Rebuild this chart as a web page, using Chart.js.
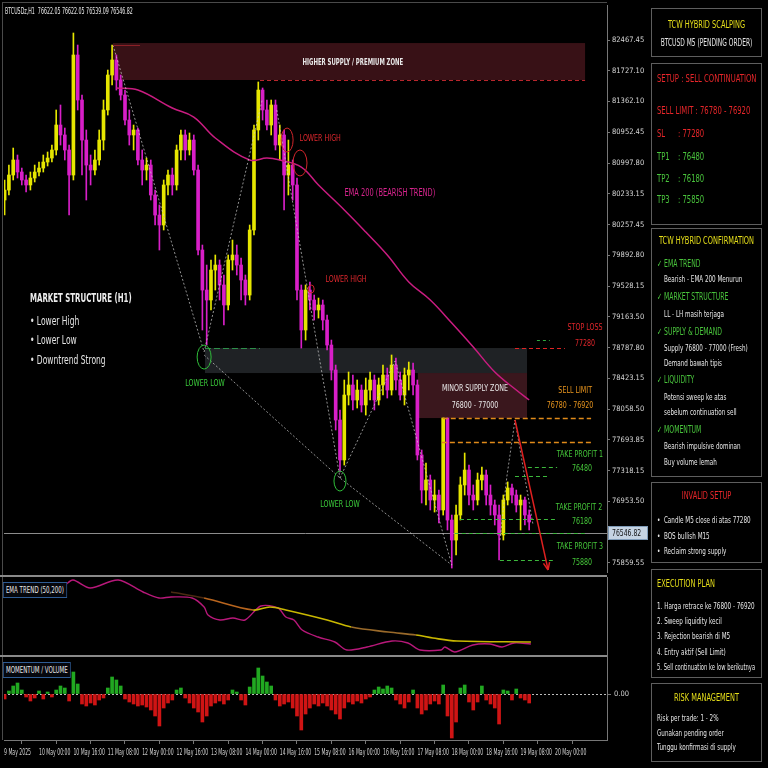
<!DOCTYPE html>
<html><head><meta charset="utf-8">
<script src="https://cdn.jsdelivr.net/npm/chart.js@4.4.0/dist/chart.umd.min.js"></script>
<style>
html,body{margin:0;padding:0;background:#000;width:768px;height:768px;overflow:hidden;}
body{position:relative;font-family:"Liberation Sans Narrow","DejaVu Sans Condensed","Liberation Sans",sans-serif;color:#e8e8e8;}
canvas{position:absolute;left:0;}
#cMain{top:0;} #cEma{top:577px;} #cMom{top:657px;}
.ln{position:absolute;background:#4a4a4a;}
.box{position:absolute;left:651px;width:111px;border:1.5px solid #5e5e5e;box-sizing:border-box;background:#000;}
.t{position:absolute;white-space:nowrap;font-size:9.5px;line-height:12px;height:12px;transform:scaleX(0.76);transform-origin:0 50%;z-index:2;}
.t.w{transform:scaleX(0.66);}
.t.w.nw{transform:scaleX(0.61);}
.t.h{font-size:10px;transform:scaleX(0.68);}
.t.c{left:556px;width:301px;text-align:center;transform-origin:50% 50%;}
.t.c.ti{font-size:10.5px;transform:scaleX(0.7);}
.y{color:#e6df1a;} .r{color:#e8262a;} .g{color:#49c43c;} .w{color:#e6e6e6;}
.tag{position:absolute;left:3px;border:1px solid #2f5c94;background:#05070d;color:#e6e6e6;font-size:8.5px;line-height:14px;padding:0 3px;white-space:nowrap;z-index:3;transform:scaleX(0.72);transform-origin:0 50%;}
</style></head>
<body>
<canvas id="cMain" width="650" height="576"></canvas>
<canvas id="cEma" width="650" height="79"></canvas>
<canvas id="cMom" width="650" height="111"></canvas>

<div class="ln" style="left:2px;top:2px;width:605px;height:1px;"></div>
<div class="ln" style="left:2px;top:2px;width:1px;height:738px;"></div>
<div class="ln" style="left:0;top:575px;width:607px;height:2px;background:#8a8a8a;"></div>
<div class="ln" style="left:0;top:655px;width:607px;height:2px;background:#8a8a8a;"></div>
<div class="ln" style="left:607px;top:577px;width:1px;height:80px;background:#777;"></div>

<div class="tag" style="top:582px;">EMA TREND (50,200)</div>
<div class="tag" style="top:662px;">MOMENTUM / VOLUME</div>

<div class="box" style="top:8px;height:49px;"></div>
<div class="box" style="top:63px;height:162px;"></div>
<div class="box" style="top:228px;height:249px;"></div>
<div class="box" style="top:482px;height:81px;"></div>
<div class="box" style="top:569px;height:109px;"></div>
<div class="box" style="top:683px;height:79px;"></div>

<div class="t c ti y" style="top:18px;">TCW HYBRID SCALPING</div>
<div class="t c w" style="top:37px;font-size:10px;">BTCUSD M5 (PENDING ORDER)</div>

<div class="t r" style="left:657px;top:73px;font-size:10px;">SETUP : SELL CONTINUATION</div>
<div class="t r" style="left:657px;top:105px;font-size:10px;">SELL LIMIT : 76780 - 76920</div>
<div class="t r" style="left:657px;top:128px;font-size:10px;">SL</div><div class="t r" style="left:678px;top:128px;font-size:10px;">: 77280</div>
<div class="t g" style="left:657px;top:151px;font-size:10px;">TP1</div><div class="t g" style="left:678px;top:151px;font-size:10px;">: 76480</div>
<div class="t g" style="left:657px;top:173px;font-size:10px;">TP2</div><div class="t g" style="left:678px;top:173px;font-size:10px;">: 76180</div>
<div class="t g" style="left:657px;top:194px;font-size:10px;">TP3</div><div class="t g" style="left:678px;top:194px;font-size:10px;">: 75850</div>

<div class="t c ti y" style="top:234px;">TCW HYBRID CONFIRMATION</div>
<div class="t h g" style="left:657px;top:258px;">✓ EMA TREND</div>
<div class="t w" style="left:664px;top:273px;">Bearish - EMA 200 Menurun</div>
<div class="t h g" style="left:657px;top:291px;">✓ MARKET STRUCTURE</div>
<div class="t w" style="left:664px;top:308px;">LL - LH masih terjaga</div>
<div class="t h g" style="left:657px;top:326px;">✓ SUPPLY &amp; DEMAND</div>
<div class="t w" style="left:664px;top:342px;">Supply 76800 - 77000 (Fresh)</div>
<div class="t w" style="left:664px;top:357px;">Demand bawah tipis</div>
<div class="t h g" style="left:657px;top:374px;">✓ LIQUIDITY</div>
<div class="t w" style="left:664px;top:391px;">Potensi sweep ke atas</div>
<div class="t w" style="left:664px;top:406px;">sebelum continuation sell</div>
<div class="t h g" style="left:657px;top:424px;">✓ MOMENTUM</div>
<div class="t w" style="left:664px;top:440px;">Bearish impulsive dominan</div>
<div class="t w" style="left:664px;top:456px;">Buy volume lemah</div>

<div class="t c ti r" style="top:489px;">INVALID SETUP</div>
<div class="t w" style="left:657px;top:514px;">•&nbsp; Candle M5 close di atas 77280</div>
<div class="t w" style="left:657px;top:530px;">•&nbsp; BOS bullish M15</div>
<div class="t w" style="left:657px;top:545px;">•&nbsp; Reclaim strong supply</div>

<div class="t y" style="left:657px;top:577px;font-size:10.5px;transform:scaleX(0.7);">EXECUTION PLAN</div>
<div class="t w" style="left:657px;top:600px;">1. Harga retrace ke 76800 - 76920</div>
<div class="t w" style="left:657px;top:615px;">2. Sweep liquidity kecil</div>
<div class="t w" style="left:657px;top:630px;">3. Rejection bearish di M5</div>
<div class="t w" style="left:657px;top:646px;">4. Entry aktif (Sell Limit)</div>
<div class="t w nw" style="left:657px;top:661px;">5. Sell continuation ke low berikutnya</div>

<div class="t c ti y" style="top:691px;">RISK MANAGEMENT</div>
<div class="t w" style="left:657px;top:712px;">Risk per trade: 1 - 2%</div>
<div class="t w" style="left:657px;top:727px;">Gunakan pending order</div>
<div class="t w" style="left:657px;top:741px;">Tunggu konfirmasi di supply</div>

<script>
// ---------------- DATA ----------------
const firstOpen = 80445;
const closes = [80571,80761,80951,80799,80698,80635,80723,80799,80849,80925,
80976,81077,81393,81267,81077,80761,82278,81709,81203,80887,
80824,80951,81203,81583,82025,82215,81962,81772,81456,81267,
81330,80951,80824,80887,80508,80255,80129,80635,80761,80635,
81077,81267,81077,81203,80824,79813,79307,79181,79560,79623,
79371,79118,79687,79750,79623,79434,79244,80066,81330,81835,
81583,81393,81646,81140,81267,80761,80887,80635,79307,78802,
79307,79181,79055,79118,78928,78612,78296,77664,77159,77980,
78107,77917,78043,77854,78043,78170,77917,78107,78233,78043,
78359,78170,77980,78233,78296,78107,77222,76779,76906,76653,
76716,76527,77689,76400,76147,76463,76843,77032,76716,76653,
76906,76969,76716,76590,76463,76211,76653,76805,76716,76590,
76653,76463,76375];
const highs = [80698,80887,81102,81014,80849,80761,80799,80887,80925,81014,
81052,81140,81583,81646,81355,81140,82556,82404,81772,81330,
81014,81077,81330,81709,82088,82404,82278,82025,81835,81583,
81393,81355,81077,80976,80951,80571,80382,80698,80824,80849,
81140,81330,81330,81292,81267,80887,79876,79623,79687,79750,
79687,79497,79750,79939,79876,79712,79497,80129,81393,81937,
81861,81709,81709,81709,81393,81330,81203,80951,80723,79371,
79371,79409,79244,79206,79181,78991,78675,78359,77791,78170,
78271,78233,78170,78107,78195,78271,78233,78195,78359,78321,
78486,78448,78271,78321,78397,78385,78170,77285,77121,76969,
76906,76779,77689,77689,76463,76590,76944,77247,77095,76843,
76994,77070,77032,76843,76653,76590,76716,76881,76855,76779,
76716,76691,76527];
const lows = [80255,80508,80698,80723,80635,80546,80571,80673,80748,80799,
80875,80925,81014,81140,80951,80255,80698,81583,80761,80445,
80635,80761,80887,81077,81519,81899,81835,81709,81393,81140,
81077,80887,80635,80698,80445,80129,79813,80066,80508,80508,
80571,80951,80951,81014,80761,79750,78802,78612,79055,79307,
79181,78865,79055,79560,79497,79181,79118,79181,80003,81203,
81456,81330,81267,81077,80951,80319,80508,80445,79181,78574,
78675,79055,78928,78953,78802,78549,78170,77538,77007,77095,
77854,77791,77816,77765,77727,77917,77791,77854,77980,77942,
77980,78043,77917,77854,78043,77980,77159,76615,76590,76527,
76501,76362,76463,76274,75793,75958,76400,76716,76590,76527,
76590,76779,76590,76463,76337,75895,76147,76590,76615,76501,
76274,76337,76274];
// EMA 200 on price chart (candle index, value)
const ema200Idx = [26,31,39,44,49,57,61,64,69,73,79,84,89,94,99,104,109,114,119,122];
const ema200Val = [81861,81835,81608,81494,81229,80951,80976,80951,80862,80634,80319,80040,79750,79409,79181,78890,78587,78271,78043,77917];
// EMA TREND panel (relative units)
const emaFastIdx = [14.1,15.9,19.9,26.4,32.2,35.9,38.7,43.6,46.4,47.3,50.1,53.1,55.9,59.6,63.6,65.4,67.3,69.2,72.9,76.8,79.6,84.3,90.1,93.8,96.6,101.5,102.4,104.7,108.9,112.9,115.7,118.5,122.4];
const emaFastVal = [75,80,72,80,68,62,63,62,53,45,40,42,40,54,52,43,40,30,23,18,10,13,19,17,10,10,13,8,15,16,13,17,16];
const emaSlowIdx = [38.7,46.4,57.8,61.7,65.4,75,80.6,89.2,95.7,99.6,105.2,122.4];
const emaSlowVal = [68,62,50,53,50,40,33,28,25,22,19,18];
// Momentum histogram
const momentum = [-5,3,8,11,4,-3,-7,-4,3,-5,
2,-3,4,8,6,-7,22,10,-10,-12,
-9,-11,-6,-4,6,17,14,8,-5,-8,
-10,-12,-11,-13,-16,-22,-32,-14,-9,-6,
4,6,-4,-9,-14,-18,-28,-22,-12,-9,
-7,-10,-6,4,2,-6,-11,7,16,26,
18,12,8,-6,-12,-10,-8,-14,-22,-36,
-20,-14,-10,-12,-9,-12,-16,-20,-25,-14,
-8,-10,-7,-9,-5,-3,4,7,5,8,
6,-6,-10,-14,-8,4,-14,-20,-16,-10,
-7,-10,9,-22,-44,-28,6,9,-8,-16,
-8,8,-6,-10,-14,-30,4,3,-6,5,
-4,-6,-9];
// Axis ticks
const yTickValues = [82467,82078,81690,81301,80912,80523,80134,79745,79357,78968,78579,78190,77801,77413,77024,76635,76246,75857];
const yTickLabels = ['82467.45','81727.10','81362.10','80952.45','80997.80','80233.15','80257.45','79892.80','79528.15','79163.50','78787.80','78423.15','78058.50','77693.85','77318.15','76953.50','','75859.55'];
const xTickIdx = [-0.14,8,16,24,32,40,48,56,64,72,80,88,96,104,112,120,128];
const xTickLabels = ['9 May 2025','10 May 00:00','10 May 16:00','11 May 08:00','12 May 00:00','12 May 16:00','13 May 08:00','14 May 00:00','14 May 16:00','15 May 08:00','16 May 00:00','16 May 16:00','17 May 08:00','18 May 00:00','18 May 16:00','19 May 08:00','20 May 00:00'];
const currentPrice = 76236, currentPriceLabel = '76546.82';
const headerText = 'BTCUSDz,H1  76622.05 76622.05 76539.09 76546.82';

// ---------------- ANNOTATIONS (data units) ----------------
const zones = [
  {x0:25.2,x1:135,y0:82429,y1:81962,fill:'rgba(66,20,26,0.85)'},
  {x0:46.6,x1:121.5,y0:78574,y1:78258,fill:'rgba(36,40,44,0.85)'},
  {x0:96.1,x1:121.5,y0:78258,y1:77689,fill:'rgba(64,26,32,0.9)'}
];
const hLines = [
  {x0:59.4,x1:135,y:81962,color:'#b8262c',dash:[4,3],w:1.2},
  {x0:25.2,x1:31.5,y:82404,color:'#8a2026',dash:[],w:1},
  {x0:46.6,x1:59.4,y:78574,color:'#2e8f4a',dash:[6,3],w:1.2},
  {x0:118.7,x1:130.3,y:78574,color:'#e02424',dash:[4,3],w:1.2},
  {x0:123.8,x1:126.8,y:78675,color:'#2eaa3e',dash:[3,3],w:1},
  {x0:101.9,x1:136.4,y:77689,color:'#e08a1a',dash:[5,3],w:1.5},
  {x0:101.7,x1:136.4,y:77386,color:'#e08a1a',dash:[5,3],w:1.5},
  {x0:121.7,x1:128.5,y:77070,color:'#3cb83c',dash:[4,3],w:1},
  {x0:118.7,x1:126.4,y:76956,color:'#3cb83c',dash:[4,3],w:1},
  {x0:105.9,x1:128.5,y:76413,color:'#3cb83c',dash:[4,3],w:1},
  {x0:104.7,x1:135,y:76236,color:'#3cb83c',dash:[4,3],w:1},
  {x0:115.2,x1:127.5,y:75895,color:'#3cb83c',dash:[4,3],w:1}
];
const structurePaths = [
  [[25.2,82404],[46.4,78524]],
  [[46.4,78524],[59.9,81709]],
  [[63.3,81583],[78,76931]],
  [[46.4,78486],[78,76931],[104,75832]],
  [[78,76931],[90.8,78410],[104,75832]],
  [[115.2,76147],[116.8,76944],[118.7,77664],[122.9,76337]]
];
const rings = [
  {x:46.4,y:78460,rx:7,ry:12,color:'#2fbf3a'},
  {x:78,y:76893,rx:6,ry:10,color:'#2fbf3a'},
  {x:65.7,y:81203,rx:6,ry:12,color:'#d0252b'},
  {x:68.7,y:80913,rx:7,ry:13,color:'#d0252b'},
  {x:71.3,y:79320,rx:3,ry:4,color:'#d0252b'}
];
const arrow = {from:[118.7,77664],to:[126.4,75769],color:'#e02020'};
const labels = [
  {t:'HIGHER SUPPLY / PREMIUM ZONE',x:81,y:82189,c:'#e8e8e8',s:9.5,b:true,sx:0.63},
  {t:'LOWER HIGH',x:73.4,y:81216,c:'#e0282e',s:9.5},
  {t:'LOWER HIGH',x:79.4,y:79446,c:'#e0282e',s:9.5},
  {t:'EMA 200 (BEARISH TREND)',x:89.6,y:80533,c:'#d8248e',s:10},
  {t:'LOWER LOW',x:46.6,y:78120,c:'#3ccf3c',s:9.5},
  {t:'LOWER LOW',x:78,y:76590,c:'#3ccf3c',s:9.5},
  {t:'MINOR SUPPLY ZONE',x:109.4,y:78056,c:'#e8e8e8',s:9.5},
  {t:'76800 - 77000',x:109.4,y:77841,c:'#e8e8e8',s:9.5},
  {t:'STOP LOSS',x:135,y:78827,c:'#e0262b',s:9.5},
  {t:'77280',x:135,y:78625,c:'#e0262b',s:9.5},
  {t:'SELL LIMIT',x:132.7,y:78043,c:'#e8951e',s:9.5},
  {t:'76780 - 76920',x:131.5,y:77841,c:'#e8951e',s:9.5},
  {t:'TAKE PROFIT 1',x:133.8,y:77234,c:'#45c83a',s:9.5},
  {t:'76480',x:134.3,y:77045,c:'#45c83a',s:9.5},
  {t:'TAKE PROFIT 2',x:133.6,y:76564,c:'#45c83a',s:9.5},
  {t:'76180',x:134.3,y:76375,c:'#45c83a',s:9.5},
  {t:'TAKE PROFIT 3',x:133.8,y:76059,c:'#45c83a',s:9.5},
  {t:'75880',x:134.3,y:75857,c:'#45c83a',s:9.5},
  {t:'MARKET STRUCTURE (H1)',x:5.9,y:79194,c:'#ececec',s:12,b:true,al:'left',sx:0.65},
  {t:'• Lower High',x:5.9,y:78903,c:'#e4e4e4',s:12,al:'left',sx:0.7},
  {t:'• Lower Low',x:5.9,y:78663,c:'#e4e4e4',s:12,al:'left',sx:0.7},
  {t:'• Downtrend Strong',x:5.9,y:78410,c:'#e4e4e4',s:12,al:'left',sx:0.7}
];

// ---------------- RENDER ----------------
const F = '"Liberation Sans Narrow","DejaVu Sans Condensed","Liberation Sans",sans-serif';
const SX = 0.74; // horizontal squeeze to mimic the condensed face
Chart.defaults.font.family = F;
const X_MIN = -0.14, X_MAX = 140.1;
const UP = '#e6e600', DN = '#d81fc8';
const opens = closes.map((c,i)=> i===0 ? firstOpen : closes[i-1]);
const bodyData = closes.map((c,i)=>({x:i, y:[opens[i], c]}));
const wickData = closes.map((c,i)=>({x:i, y:[Math.min(lows[i],opens[i],c), Math.max(highs[i],opens[i],c)]}));
const candleColor = ctx => closes[ctx.dataIndex] >= opens[ctx.dataIndex] ? UP : DN;

function P(c, xv, yv){ return [c.scales.x.getPixelForValue(xv), c.scales.y.getPixelForValue(yv)]; }
function sText(ctx, t, x, y, font, color, align, sx){
  ctx.save(); ctx.font=font; ctx.fillStyle=color; ctx.textBaseline='middle'; ctx.textAlign=align;
  ctx.translate(x,y); ctx.scale(sx,1); ctx.fillText(t,0,0); ctx.restore();
}

const mainAnnot = {
  id:'mainAnnot',
  beforeDatasetsDraw(c){
    const ctx=c.ctx, a=c.chartArea;
    ctx.save();
    ctx.beginPath(); ctx.rect(a.left,a.top,a.right-a.left,a.bottom-a.top); ctx.clip();
    zones.forEach(z=>{
      const [x0,y0]=P(c,z.x0,z.y0), [x1,y1]=P(c,z.x1,z.y1);
      ctx.fillStyle=z.fill; ctx.fillRect(x0,Math.min(y0,y1),x1-x0,Math.abs(y1-y0));
    });
    const cy = c.scales.y.getPixelForValue(currentPrice);
    ctx.strokeStyle='#8c8c8c'; ctx.lineWidth=1; ctx.beginPath(); ctx.moveTo(a.left,Math.round(cy)+0.5); ctx.lineTo(a.right,Math.round(cy)+0.5); ctx.stroke();
    ctx.restore();
  },
  afterDatasetsDraw(c){
    const ctx=c.ctx, a=c.chartArea;
    ctx.save();
    ctx.beginPath(); ctx.rect(a.left,a.top,a.right-a.left,a.bottom-a.top); ctx.clip();
    ctx.strokeStyle='rgba(205,205,205,0.7)'; ctx.lineWidth=1; ctx.setLineDash([2,2]);
    structurePaths.forEach(p=>{
      ctx.beginPath();
      p.forEach((pt,k)=>{ const [x,y]=P(c,pt[0],pt[1]); k?ctx.lineTo(x,y):ctx.moveTo(x,y); });
      ctx.stroke();
    });
    hLines.forEach(l=>{
      const [x0,y]=P(c,l.x0,l.y), [x1]=P(c,l.x1,l.y);
      ctx.strokeStyle=l.color; ctx.lineWidth=l.w; ctx.setLineDash(l.dash);
      ctx.beginPath(); ctx.moveTo(x0,Math.round(y)+0.5); ctx.lineTo(x1,Math.round(y)+0.5); ctx.stroke();
    });
    ctx.setLineDash([]);
    rings.forEach(r=>{
      const [x,y]=P(c,r.x,r.y);
      ctx.strokeStyle=r.color; ctx.lineWidth=1;
      ctx.beginPath(); ctx.ellipse(x,y,r.rx,r.ry,0,0,Math.PI*2); ctx.stroke();
    });
    {
      const [x0,y0]=P(c,arrow.from[0],arrow.from[1]), [x1,y1]=P(c,arrow.to[0],arrow.to[1]);
      ctx.strokeStyle=arrow.color; ctx.lineWidth=1.5;
      ctx.beginPath(); ctx.moveTo(x0,y0); ctx.lineTo(x1,y1); ctx.stroke();
      const ang=Math.atan2(y1-y0,x1-x0), L=8;
      ctx.beginPath(); ctx.moveTo(x1,y1);
      ctx.lineTo(x1-L*Math.cos(ang-0.4), y1-L*Math.sin(ang-0.4));
      ctx.moveTo(x1,y1);
      ctx.lineTo(x1-L*Math.cos(ang+0.4), y1-L*Math.sin(ang+0.4));
      ctx.stroke();
    }
    labels.forEach(l=>{
      const [x,y]=P(c,l.x,l.y);
      sText(ctx,l.t,x,y,(l.b?'bold ':'')+l.s+'px '+F,l.c,l.al||'center',l.sx||SX);
    });
    ctx.restore();
  },
  afterDraw(c){
    const ctx=c.ctx, a=c.chartArea;
    ctx.save();
    const y=Math.round(c.scales.y.getPixelForValue(currentPrice));
    ctx.fillStyle='#c5d3e2'; ctx.fillRect(a.right+1,y-7,40,14);
    ctx.strokeStyle='#7f9bb8'; ctx.lineWidth=1; ctx.strokeRect(a.right+1.5,y-6.5,39,13);
    ctx.restore();
    sText(ctx,currentPriceLabel,a.right+5,y+0.5,'8.5px '+F,'#111','left',0.8);
    sText(ctx,headerText,a.left+1,12,'8.5px '+F,'#e8e8e8','left',0.62);
  }
};

new Chart(document.getElementById('cMain'),{
  type:'bar',
  data:{datasets:[
    {type:'line',data:ema200Idx.map((x,k)=>({x,y:ema200Val[k]})),borderColor:'#c91c80',borderWidth:1.5,pointRadius:0,tension:0.4,order:0},
    {data:bodyData,backgroundColor:candleColor,barThickness:3,grouped:false,borderWidth:0,order:1},
    {data:wickData,backgroundColor:candleColor,barThickness:1,grouped:false,borderWidth:0,order:2}
  ]},
  options:{
    responsive:false,animation:false,devicePixelRatio:1,
    layout:{padding:{left:4,top:5,right:0,bottom:4}},
    plugins:{legend:{display:false},tooltip:{enabled:false}},
    scales:{
      x:{type:'linear',min:X_MIN,max:X_MAX,offset:false,display:false},
      y:{position:'right',min:75743,max:82910,
        afterBuildTicks(s){ s.ticks = yTickValues.map(v=>({value:v})); },
        afterFit(s){ s.width=43; s.paddingTop=0; s.paddingBottom=0; },
        ticks:{color:'#d6d6d6',font:{size:7.5,family:F},padding:2,autoSkip:false,callback:(v,i)=>yTickLabels[i]},
        grid:{drawOnChartArea:false,color:'#777',tickLength:3},
        border:{color:'#777'}}
    }
  },
  plugins:[mainAnnot]
});

new Chart(document.getElementById('cEma'),{
  type:'line',
  data:{datasets:[
    {data:emaSlowIdx.map((x,k)=>({x,y:emaSlowVal[k]})),borderWidth:1.6,pointRadius:0,tension:0.35,
      borderColor:'#c9b800',
      segment:{borderColor:s=> s.p0.parsed.x<46 ? '#4a2a12' : (s.p0.parsed.x<56 ? '#b8651e' : (s.p0.parsed.x>=80 && s.p0.parsed.x<95 ? '#9a6a2a' : '#c9b800'))}},
    {data:emaFastIdx.map((x,k)=>({x,y:emaFastVal[k]})),borderColor:'#b8187a',borderWidth:1.4,pointRadius:0,tension:0.3}
  ]},
  options:{
    responsive:false,animation:false,devicePixelRatio:1,
    layout:{padding:{left:4,top:1,right:43,bottom:1}},
    plugins:{legend:{display:false},tooltip:{enabled:false}},
    scales:{x:{type:'linear',min:X_MIN,max:X_MAX,display:false},y:{min:5,max:82,display:false}}
  }
});

const momDeco = {
  id:'momDeco',
  beforeDatasetsDraw(c){
    const ctx=c.ctx,a=c.chartArea,y=Math.round(c.scales.y.getPixelForValue(0))+0.5;
    ctx.save(); ctx.strokeStyle='#bdbdbd'; ctx.setLineDash([2,2]); ctx.lineWidth=1;
    ctx.beginPath(); ctx.moveTo(a.left,y); ctx.lineTo(a.right,y); ctx.stroke(); ctx.restore();
  },
  afterDraw(c){
    const ctx=c.ctx,a=c.chartArea,X=c.scales.x;
    xTickIdx.forEach((v,k)=>{
      sText(ctx,xTickLabels[k],X.getPixelForValue(v),a.bottom+13,'8.5px '+F,'#d0d0d0','left',0.6);
    });
  }
};
new Chart(document.getElementById('cMom'),{
  type:'bar',
  data:{datasets:[{data:momentum.map((v,i)=>({x:i,y:v})),backgroundColor:ctx=> momentum[ctx.dataIndex]>=0 ? '#21a821' : '#cf1414',barThickness:3,borderWidth:0}]},
  options:{
    responsive:false,animation:false,devicePixelRatio:1,
    layout:{padding:{left:4,top:0,right:0,bottom:0}},
    plugins:{legend:{display:false},tooltip:{enabled:false}},
    scales:{
      x:{type:'linear',min:X_MIN,max:X_MAX,offset:false,
        afterBuildTicks(s){ s.ticks = xTickIdx.map(v=>({value:v})); },
        afterFit(s){ s.height=28; s.paddingLeft=0; s.paddingRight=0; },
        ticks:{display:false},
        grid:{drawOnChartArea:false,color:'#777',tickLength:4},border:{color:'#777'}},
      y:{position:'right',min:-46,max:37,
        afterBuildTicks(s){ s.ticks=[{value:0}]; },
        afterFit(s){ s.width=43; s.paddingTop=0; s.paddingBottom=0; },
        ticks:{color:'#d0d0d0',font:{size:7.5,family:F},padding:3,callback:()=> '0.00'},
        grid:{drawOnChartArea:false,color:'#777',tickLength:4},border:{color:'#777'}}
    }
  },
  plugins:[momDeco]
});
</script>
</body></html>
